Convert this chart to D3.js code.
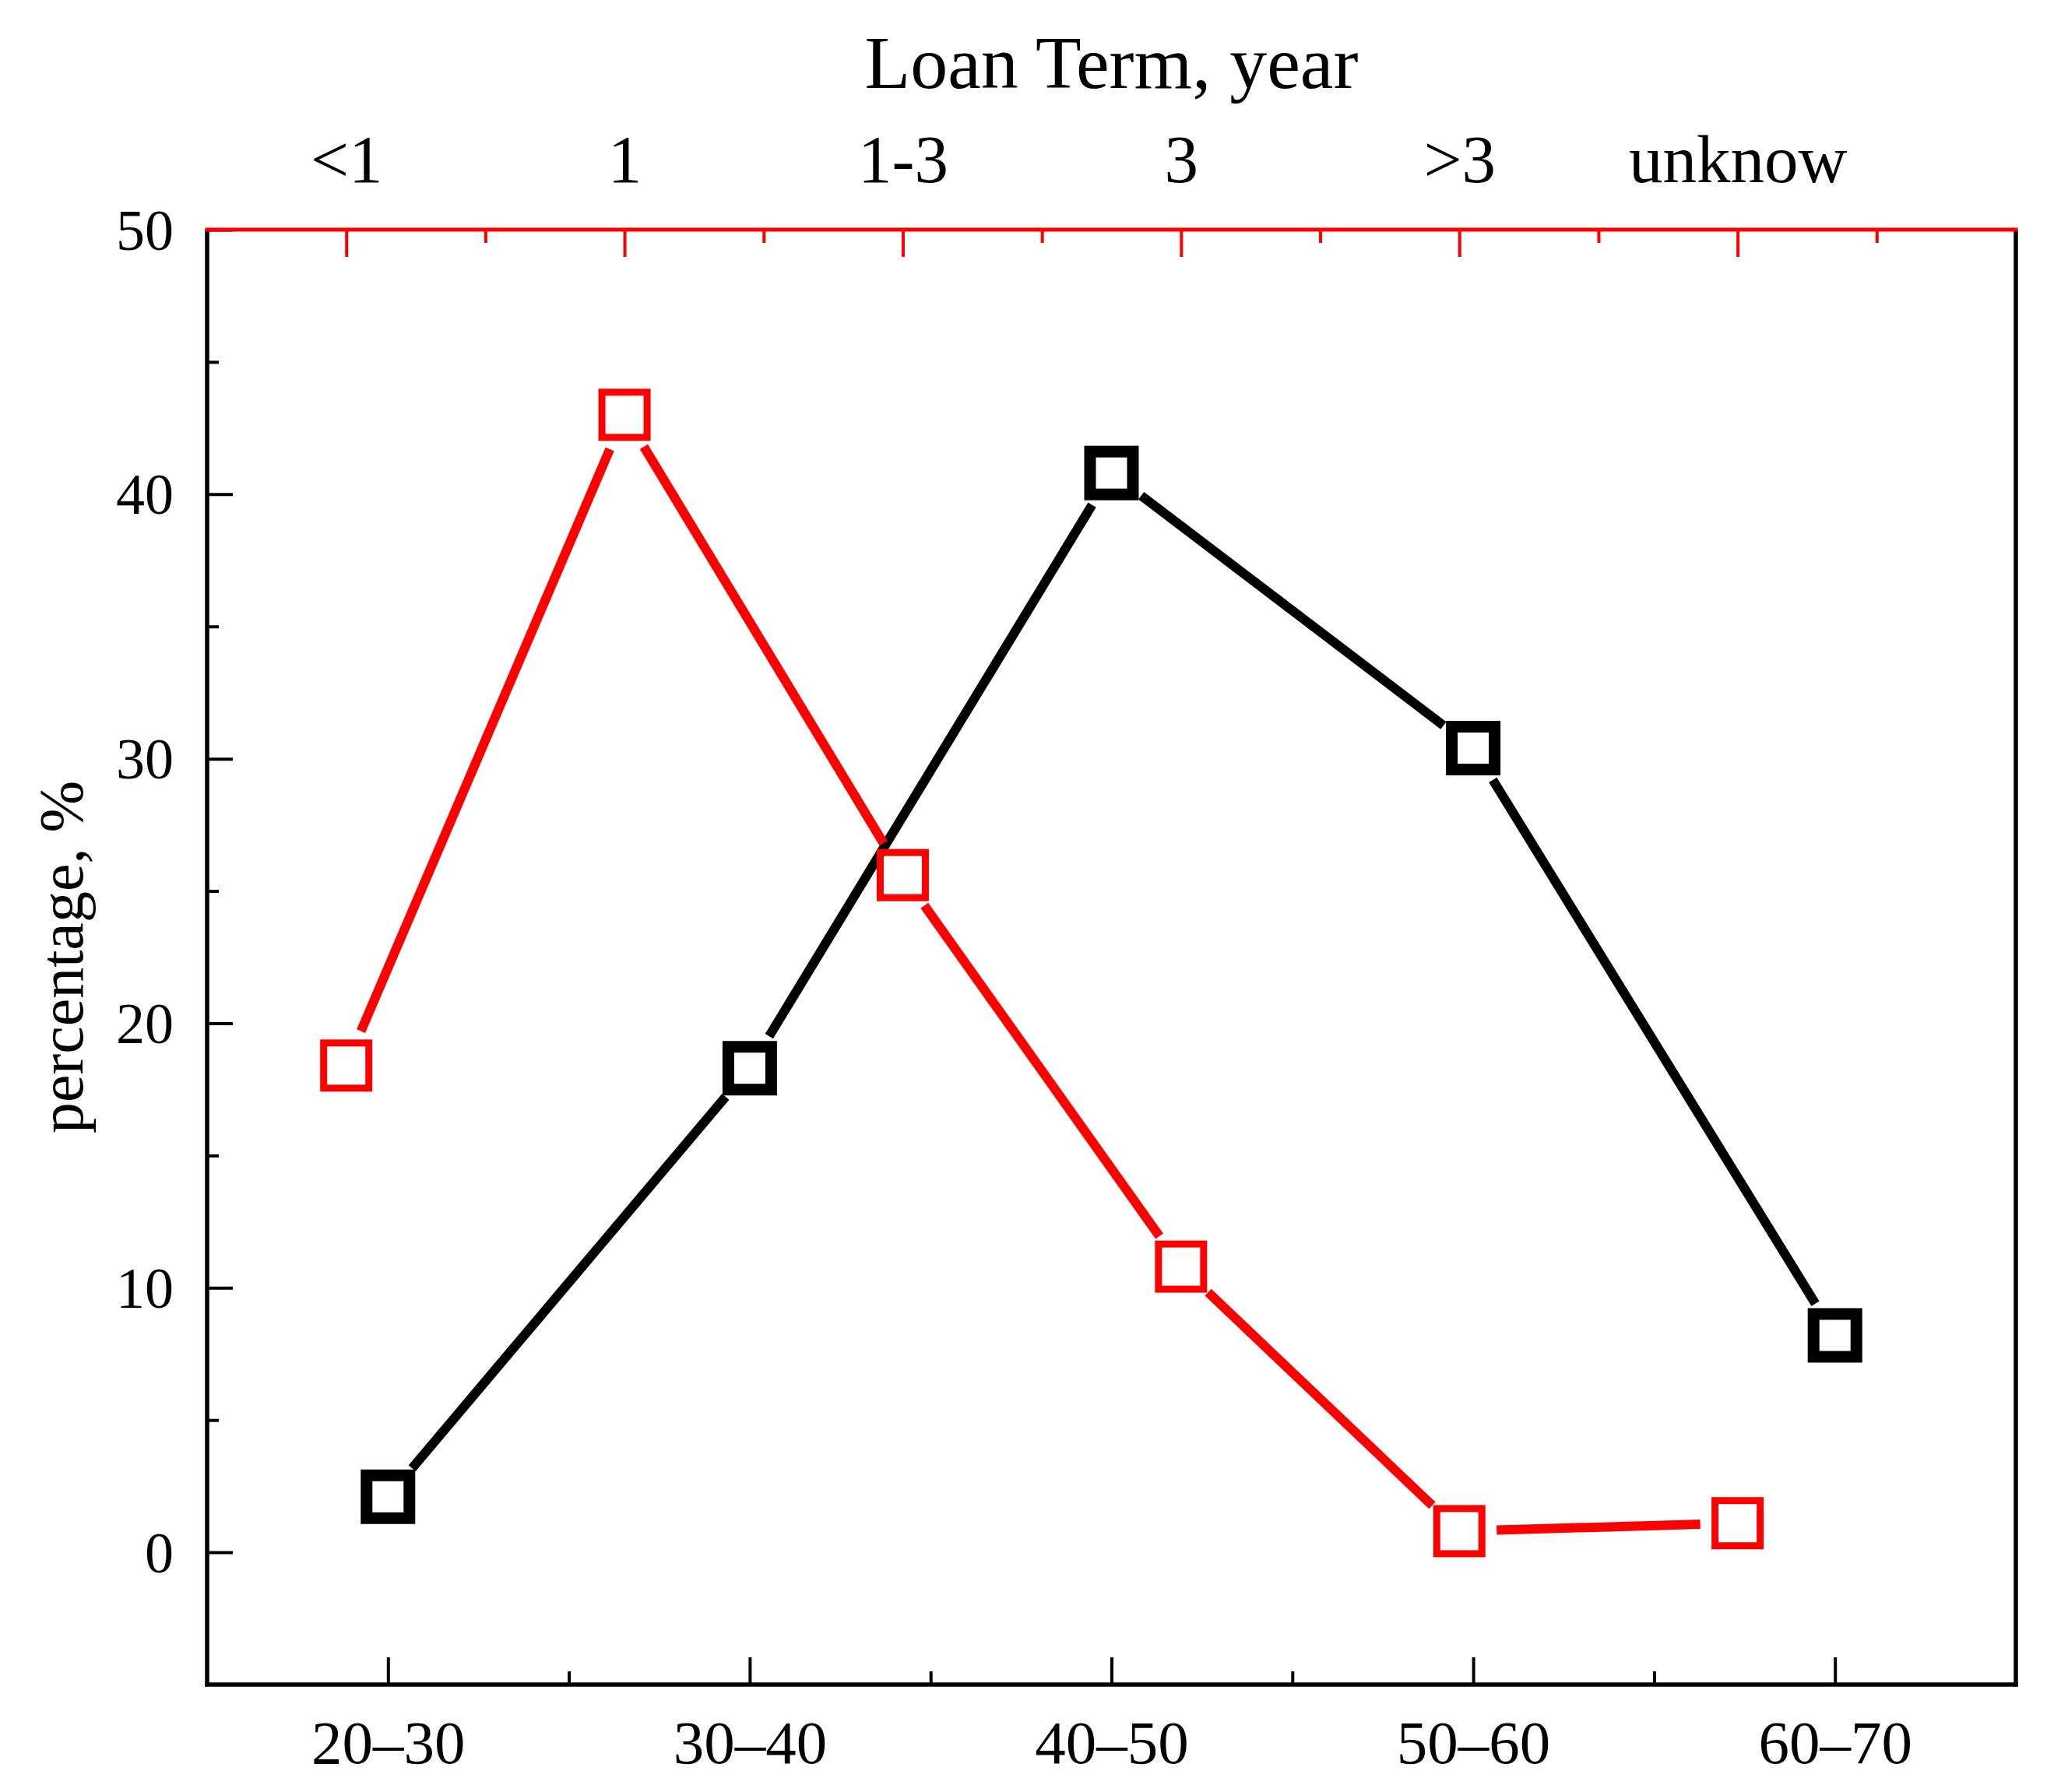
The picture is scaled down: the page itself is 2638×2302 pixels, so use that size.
<!DOCTYPE html>
<html>
<head>
<meta charset="utf-8">
<script src="https://cdn.jsdelivr.net/npm/d3@7"></script>
<style>
  body { margin: 0; background: #fff; }
  text { font-family: "Liberation Serif", "Times New Roman", serif; fill: #000; }
</style>
</head>
<body>
<div id="chart"></div>
<script>
// Bottom axis: age groups (black series)
const ageGroups = ['20–30', '30–40', '40–50', '50–60', '60–70'];
const ageValues = [2.1, 18.3, 40.8, 30.4, 8.2];

// Top axis: loan term (red series)
const loanTerms = ['<1', '1', '1-3', '3', '>3', 'unknow'];
const loanValues = [18.4, 43.0, 25.6, 10.8, 0.8, 1.1];

const yTicks = [0, 10, 20, 30, 40, 50];
const yMinorTicks = [5, 15, 25, 35, 45];

const W = 2638, H = 2302;
const plotLeft = 266, plotRight = 2589, plotTop = 295, plotBottom = 2164;

const svg = d3.select('#chart').append('svg')
    .attr('width', W)
    .attr('height', H);

const xBottom = d3.scaleLinear().domain([0.5, ageGroups.length + 0.5]).range([plotLeft, plotRight]);
const xTop = d3.scaleLinear().domain([0.5, loanTerms.length + 1]).range([plotLeft, plotRight]);
const y = d3.scaleLinear().domain([-5, 50]).range([plotBottom, plotTop]);

function styleTicks(g, color, width) {
    g.select('.domain').remove();
    g.selectAll('.tick line').attr('stroke', color).attr('stroke-width', width);
}

// Bottom axis
const idxBottom = d3.range(1, ageGroups.length + 1);
svg.append('g')
    .attr('transform', `translate(0,${plotBottom})`)
    .call(d3.axisBottom(xBottom).tickValues(idxBottom.map(d => d + 0.5).slice(0, -1)).tickSize(-17).tickFormat(''))
    .call(g => styleTicks(g, '#000', 4));
svg.append('g')
    .attr('transform', `translate(0,${plotBottom})`)
    .call(d3.axisBottom(xBottom).tickValues(idxBottom).tickSize(-35).tickFormat(i => ageGroups[i - 1]))
    .call(g => styleTicks(g, '#000', 4))
    .call(g => g.selectAll('text')
        .attr('y', 101).attr('dy', 0)
        .style('font-size', '79px')
        .style('font-family', '"Liberation Serif", serif'));

// Top axis
const idxTop = d3.range(1, loanTerms.length + 1);
svg.append('g')
    .attr('transform', `translate(0,${plotTop})`)
    .call(d3.axisTop(xTop).tickValues(idxTop.map(d => d + 0.5)).tickSize(-17).tickFormat(''))
    .call(g => styleTicks(g, '#ff0000', 4));
svg.append('g')
    .attr('transform', `translate(0,${plotTop})`)
    .call(d3.axisTop(xTop).tickValues(idxTop).tickSize(-35).tickFormat(i => loanTerms[i - 1]))
    .call(g => styleTicks(g, '#ff0000', 4))
    .call(g => g.selectAll('text')
        .attr('y', -61).attr('dy', 0)
        .style('font-size', '87px')
        .style('font-family', '"Liberation Serif", serif'));

// Left axis
svg.append('g')
    .attr('transform', `translate(${plotLeft},0)`)
    .call(d3.axisLeft(y).tickValues(yMinorTicks).tickSize(-15).tickFormat(''))
    .call(g => styleTicks(g, '#000', 4));
svg.append('g')
    .attr('transform', `translate(${plotLeft},0)`)
    .call(d3.axisLeft(y).tickValues(yTicks).tickSize(-33).tickFormat(d3.format('d')))
    .call(g => styleTicks(g, '#000', 4))
    .call(g => g.selectAll('text')
        .attr('x', -43).attr('dy', '0.34em')
        .style('font-size', '74px')
        .style('font-family', '"Liberation Serif", serif'));

// Frame
svg.append('line').attr('x1', plotLeft).attr('x2', plotLeft).attr('y1', plotTop).attr('y2', plotBottom + 2.5)
    .attr('stroke', '#000').attr('stroke-width', 5.5);
svg.append('line').attr('x1', plotRight).attr('x2', plotRight).attr('y1', plotTop).attr('y2', plotBottom + 2.5)
    .attr('stroke', '#000').attr('stroke-width', 5.5);
svg.append('line').attr('x1', plotLeft - 2.5).attr('x2', plotRight + 2.5).attr('y1', plotBottom).attr('y2', plotBottom)
    .attr('stroke', '#000').attr('stroke-width', 5.5);
svg.append('line').attr('x1', plotLeft - 2.5).attr('x2', plotRight + 2.5).attr('y1', plotTop).attr('y2', plotTop)
    .attr('stroke', '#ff0000').attr('stroke-width', 5);

// Axis titles
svg.append('text')
    .attr('x', (plotLeft + plotRight) / 2)
    .attr('y', 113)
    .attr('text-anchor', 'middle')
    .style('font-size', '96px')
    .text('Loan Term, year');

svg.append('text')
    .attr('transform', `translate(106,${(plotTop + plotBottom) / 2}) rotate(-90)`)
    .attr('text-anchor', 'middle')
    .style('font-size', '80px')
    .text('percentage, %');

// Series with gaps around the symbols
const gap = 48;
const line = d3.line();

function drawSeries(values, xs, color, lw) {
    const pts = values.map((v, i) => [xs(i + 1), y(v)]);
    const segs = d3.pairs(pts).map(([a, b]) => {
        const dx = b[0] - a[0], dy = b[1] - a[1];
        const len = Math.hypot(dx, dy);
        const ux = dx / len, uy = dy / len;
        return [[a[0] + ux * gap, a[1] + uy * gap], [b[0] - ux * gap, b[1] - uy * gap]];
    });
    svg.append('g').selectAll('path')
        .data(segs)
        .join('path')
        .attr('d', line)
        .attr('fill', 'none')
        .attr('stroke', color)
        .attr('stroke-width', lw);
    return pts;
}

const blackPts = drawSeries(ageValues, xBottom, '#000', 12);
const redPts = drawSeries(loanValues, xTop, '#ff0000', 12);

svg.append('g').selectAll('rect')
    .data(blackPts)
    .join('rect')
    .attr('x', d => d[0] - 27.5)
    .attr('y', d => d[1] - 27.5)
    .attr('width', 55)
    .attr('height', 55)
    .attr('fill', 'none')
    .attr('stroke', '#000')
    .attr('stroke-width', 15);

svg.append('g').selectAll('rect')
    .data(redPts)
    .join('rect')
    .attr('x', d => d[0] - 29)
    .attr('y', d => d[1] - 29)
    .attr('width', 58)
    .attr('height', 58)
    .attr('fill', 'none')
    .attr('stroke', '#ff0000')
    .attr('stroke-width', 9);
</script>
</body>
</html>
